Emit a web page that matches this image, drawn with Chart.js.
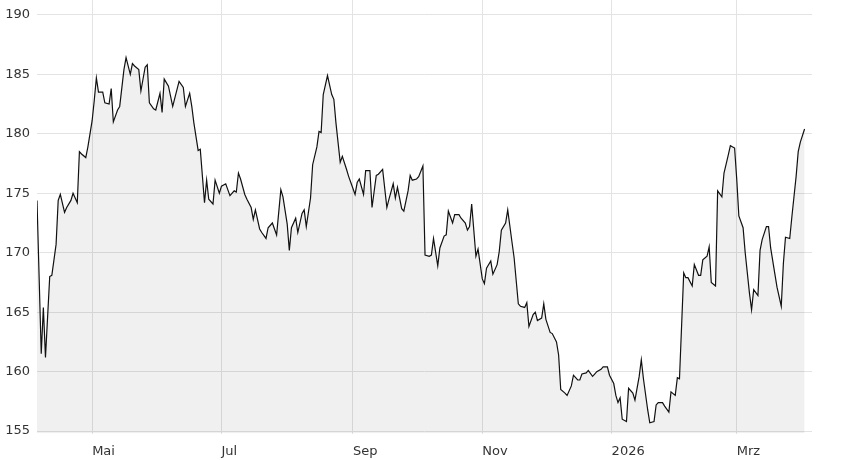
<!DOCTYPE html>
<html>
<head>
<meta charset="utf-8">
<script src="https://cdn.jsdelivr.net/npm/chart.js@4/dist/chart.umd.min.js"></script>
<style>
  body { margin: 0; background: #fff; }
</style>
</head>
<body>
<canvas id="chart" width="848" height="460"></canvas>
<script>
// days since 2025-04-04, closing price
const days = [1, 3, 4, 5, 7, 8, 10, 11, 12, 14, 15, 17, 18, 20, 21, 22, 24, 25, 27, 28,
  29, 30, 32, 33, 35, 36, 37, 39, 40, 42, 43, 45, 46, 47, 49, 50, 52, 53, 54, 56,
  57, 59, 60, 61, 63, 65, 68, 70, 71, 73, 74, 75, 77, 78, 80, 81, 82, 84, 85, 87,
  88, 90, 92, 94, 95, 96, 97, 99, 100, 102, 103, 104, 106, 107, 109, 110, 112, 113, 114, 116,
  117, 119, 120, 121, 123, 124, 126, 127, 128, 130, 131, 133, 134, 135, 136, 138, 140, 141, 142, 144,
  145, 147, 148, 149, 151, 152, 153, 155, 156, 158, 159, 161, 162, 164, 166, 167, 169, 170, 171, 173,
  174, 176, 177, 178, 180, 181, 183, 184, 186, 187, 188, 190, 191, 193, 194, 195, 197, 198, 200, 201,
  203, 204, 205, 206, 208, 209, 211, 212, 213, 215, 216, 218, 219, 220, 222, 223, 225, 226, 228, 229,
  231, 232, 233, 235, 236, 237, 239, 240, 241, 243, 244, 246, 247, 248, 250, 251, 253, 254, 256, 257,
  258, 260, 261, 263, 264, 265, 267, 268, 270, 271, 273, 274, 275, 276, 277, 279, 280, 282, 283, 285,
  286, 287, 289, 290, 292, 293, 294, 296, 297, 299, 300, 302, 303, 304, 306, 307, 308, 310, 311, 313,
  314, 315, 317, 318, 319, 321, 322, 324, 325, 327, 328, 330, 331, 332, 334, 335, 337, 338, 339, 341,
  342, 343, 345, 346, 347, 349, 350, 352, 353, 354, 356, 357, 359, 360, 361, 363];

const prices = [174.4, 161.5, 165.4, 161.2, 168.0, 168.1, 170.7, 174.4, 174.9, 173.4, 173.8, 174.4, 175.0, 174.2, 178.5, 178.3, 178.0, 178.9, 181.1, 182.8,
  184.7, 183.5, 183.5, 182.6, 182.5, 183.8, 181.0, 182.0, 182.3, 185.4, 186.4, 185.0, 185.9, 185.7, 185.4, 183.6, 185.6, 185.8, 182.6, 182.1,
  182.0, 183.4, 181.8, 184.6, 184.0, 182.3, 184.4, 183.9, 182.3, 183.4, 182.3, 180.9, 178.6, 178.7, 174.2, 176.1, 174.5, 174.1, 176.1, 175.0,
  175.6, 175.8, 174.8, 175.2, 175.1, 176.7, 176.2, 174.9, 174.5, 173.8, 172.8, 173.6, 172.0, 171.7, 171.2, 172.1, 172.5, 172.0, 171.5, 175.3,
  174.7, 172.4, 170.2, 172.1, 172.9, 171.7, 173.3, 173.6, 172.2, 174.6, 177.4, 178.9, 180.2, 180.1, 183.3, 184.9, 183.3, 182.9, 180.9, 177.6,
  178.1, 177.0, 176.4, 175.9, 174.9, 175.9, 176.2, 174.9, 176.9, 176.9, 173.8, 176.5, 176.6, 177.0, 173.8, 174.5, 175.8, 174.6, 175.5, 173.7,
  173.5, 175.2, 176.5, 176.1, 176.2, 176.4, 177.3, 169.8, 169.7, 169.8, 171.2, 168.9, 170.4, 171.4, 171.5, 173.5, 172.5, 173.2, 173.2, 172.9,
  172.5, 171.9, 172.2, 174.1, 169.7, 170.3, 167.8, 167.4, 168.7, 169.3, 168.2, 169.0, 170.1, 171.9, 172.5, 173.6, 170.9, 169.6, 165.7, 165.5,
  165.4, 165.8, 163.8, 164.8, 165.0, 164.3, 164.5, 165.7, 164.4, 163.3, 163.2, 162.5, 161.4, 158.5, 158.2, 158.0, 158.8, 159.7, 159.3, 159.3,
  159.8, 159.9, 160.1, 159.6, 159.8, 160.0, 160.2, 160.4, 160.4, 159.7, 159.0, 158.0, 157.4, 157.8, 156.0, 155.8, 158.6, 158.2, 157.6, 159.6,
  161.0, 159.4, 156.8, 155.7, 155.8, 157.2, 157.4, 157.4, 157.1, 156.6, 158.3, 158.0, 159.5, 159.4, 168.3, 167.9, 167.9, 167.2, 169.0, 168.1,
  168.1, 169.4, 169.7, 170.5, 167.5, 167.2, 175.2, 174.7, 176.7, 178.2, 179.0, 178.8, 176.2, 173.1, 172.1, 170.0, 166.6, 165.2, 166.9, 166.4,
  170.2, 171.1, 172.2, 172.2, 170.4, 168.2, 167.1, 165.5, 169.1, 171.3, 171.2, 173.0, 176.4, 178.5, 179.3, 180.4];

// month starts (days since 2025-04-04) and their labels
const tickDays = [27, 88, 150, 211, 272, 331];
const tickLabels = ['Mai', 'Jul', 'Sep', 'Nov', '2026', 'Mrz'];
const yTicks = [155, 160, 165, 170, 175, 180, 185, 190];

const points = days.map((d, i) => ({ x: d, y: prices[i] }));

new Chart(document.getElementById('chart'), {
  type: 'line',
  data: {
    datasets: [{
      data: points,
      borderColor: '#111',
      borderWidth: 1.2,
      backgroundColor: 'rgba(0,0,0,0.06)',
      fill: 'start',
      pointRadius: 0,
      tension: 0
    }]
  },
  options: {
    responsive: false,
    animation: false,
    layout: { padding: { top: 0, right: 36, bottom: 0, left: 0 } },
    plugins: { legend: { display: false }, tooltip: { enabled: false } },
    scales: {
      x: {
        type: 'linear',
        min: 1,
        max: 366.5,
        afterBuildTicks: (scale) => { scale.ticks = tickDays.map(v => ({ value: v })); },
        afterFit: (scale) => {
          scale.height = 26.5;
          scale.paddingLeft = 0;
          scale.paddingRight = 0;
        },
        border: { display: false },
        grid: { color: '#e3e3e3', drawTicks: false, lineWidth: 1 },
        ticks: {
          align: 'start',
          padding: 10,
          maxRotation: 0,
          autoSkip: false,
          color: '#333',
          font: { family: 'DejaVu Sans', size: 13 },
          callback: (v) => tickLabels[tickDays.indexOf(v)]
        }
      },
      y: {
        min: 154.8,
        max: 191.25,
        afterBuildTicks: (scale) => { scale.ticks = yTicks.map(v => ({ value: v })); },
        afterFit: (scale) => {
          scale.width = 37;
          scale.paddingTop = 0;
          scale.paddingBottom = 0;
        },
        border: { display: false },
        grid: { color: '#e3e3e3', drawTicks: false, lineWidth: 1 },
        ticks: {
          padding: 7,
          color: '#333',
          font: { family: 'DejaVu Sans', size: 13 }
        }
      }
    }
  }
});
</script>
</body>
</html>
